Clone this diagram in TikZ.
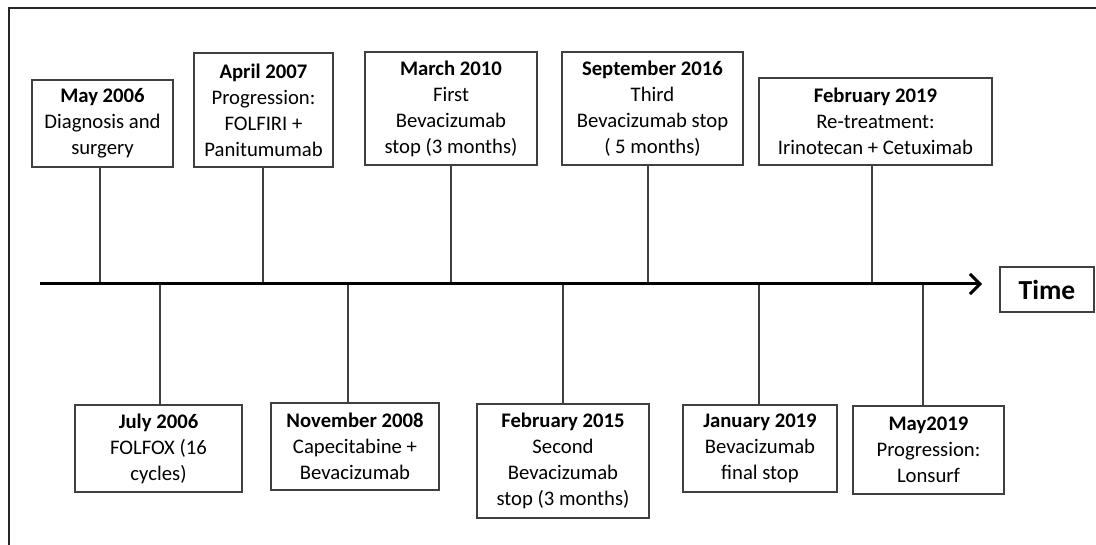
\documentclass[tikz,border=0pt]{standalone}
\usepackage{fontspec}
\setmainfont{Carlito}
\usetikzlibrary{arrows.meta}
\begin{document}
\begin{tikzpicture}[x=1pt,y=-1pt,
  evbox/.style={draw=black!75,line width=1.2pt,inner sep=0pt,align=center,
    font=\fontsize{20.7}{26}\selectfont},
  stem/.style={draw=black!75,line width=1.2pt},
  axis/.style={line width=3pt,-{Straight Barb[length=10pt,width=20pt,line width=3pt]}}]
\useasboundingbox (0,0) rectangle (1096,545);
\draw[line width=1.5pt,black!85] (9,545) -- (9,8) -- (1096,8);
% top boxes
\node[evbox,minimum width=141pt,minimum height=87pt] (b1) at (102.5,123.5) {\textbf{May 2006}\\Diagnosis and\\surgery};
\node[evbox,minimum width=139pt,minimum height=114pt] (b2) at (263.5,110) {\textbf{April 2007}\\Progression:\\FOLFIRI +\\Panitumumab};
\node[evbox,minimum width=172pt,minimum height=113pt] (b3) at (451,108.5) {\textbf{March 2010}\\First\\Bevacizumab\\stop (3 months)};
\node[evbox,minimum width=181pt,minimum height=113pt] (b4) at (652.5,108.5) {\textbf{September 2016}\\Third\\Bevacizumab stop\\( 5 months)};
\node[evbox,minimum width=233pt,minimum height=87pt] (b5) at (875.5,121.5) {\textbf{February 2019}\\Re-treatment:\\Irinotecan + Cetuximab};
% bottom boxes
\node[evbox,minimum width=167pt,minimum height=87pt] (c1) at (158.5,448.5) {\textbf{July 2006}\\FOLFOX (16\\cycles)};
\node[evbox,minimum width=168pt,minimum height=87pt] (c2) at (355,446.5) {\textbf{November 2008}\\Capecitabine +\\Bevacizumab};
\node[evbox,minimum width=172pt,minimum height=114pt] (c3) at (563,461) {\textbf{February 2015}\\Second\\Bevacizumab\\stop (3 months)};
\node[evbox,minimum width=154pt,minimum height=87pt] (c4) at (760,448.5) {\textbf{January 2019}\\Bevacizumab\\final stop};
\node[evbox,minimum width=151pt,minimum height=88pt] (c5) at (928.5,450) {\textbf{May2019}\\Progression:\\Lonsurf};
\node[evbox,minimum width=94pt,minimum height=45pt,font=\fontsize{27.5}{32}\selectfont\bfseries] (time) at (1047,289.5) {Time};
% timeline coordinates
\coordinate (start) at (40,284);
\coordinate (end) at (982,284);
\coordinate (t1) at (100,284);
\coordinate (t2) at (263,284);
\coordinate (t3) at (451,284);
\coordinate (t4) at (648,284);
\coordinate (t5) at (872,284);
\coordinate (u1) at (160,284);
\coordinate (u2) at (348,284);
\coordinate (u3) at (563,284);
\coordinate (u4) at (759,284);
\coordinate (u5) at (923,284);
\foreach \b/\t in {b1/t1,b2/t2,b3/t3,b4/t4,b5/t5}
  \draw[stem] (\b.south -| \t) -- (\t);
\foreach \b/\t in {c1/u1,c2/u2,c3/u3,c4/u4,c5/u5}
  \draw[stem] (\b.north -| \t) -- (\t);
\draw[axis] (start) -- (end);
\end{tikzpicture}
\end{document}
